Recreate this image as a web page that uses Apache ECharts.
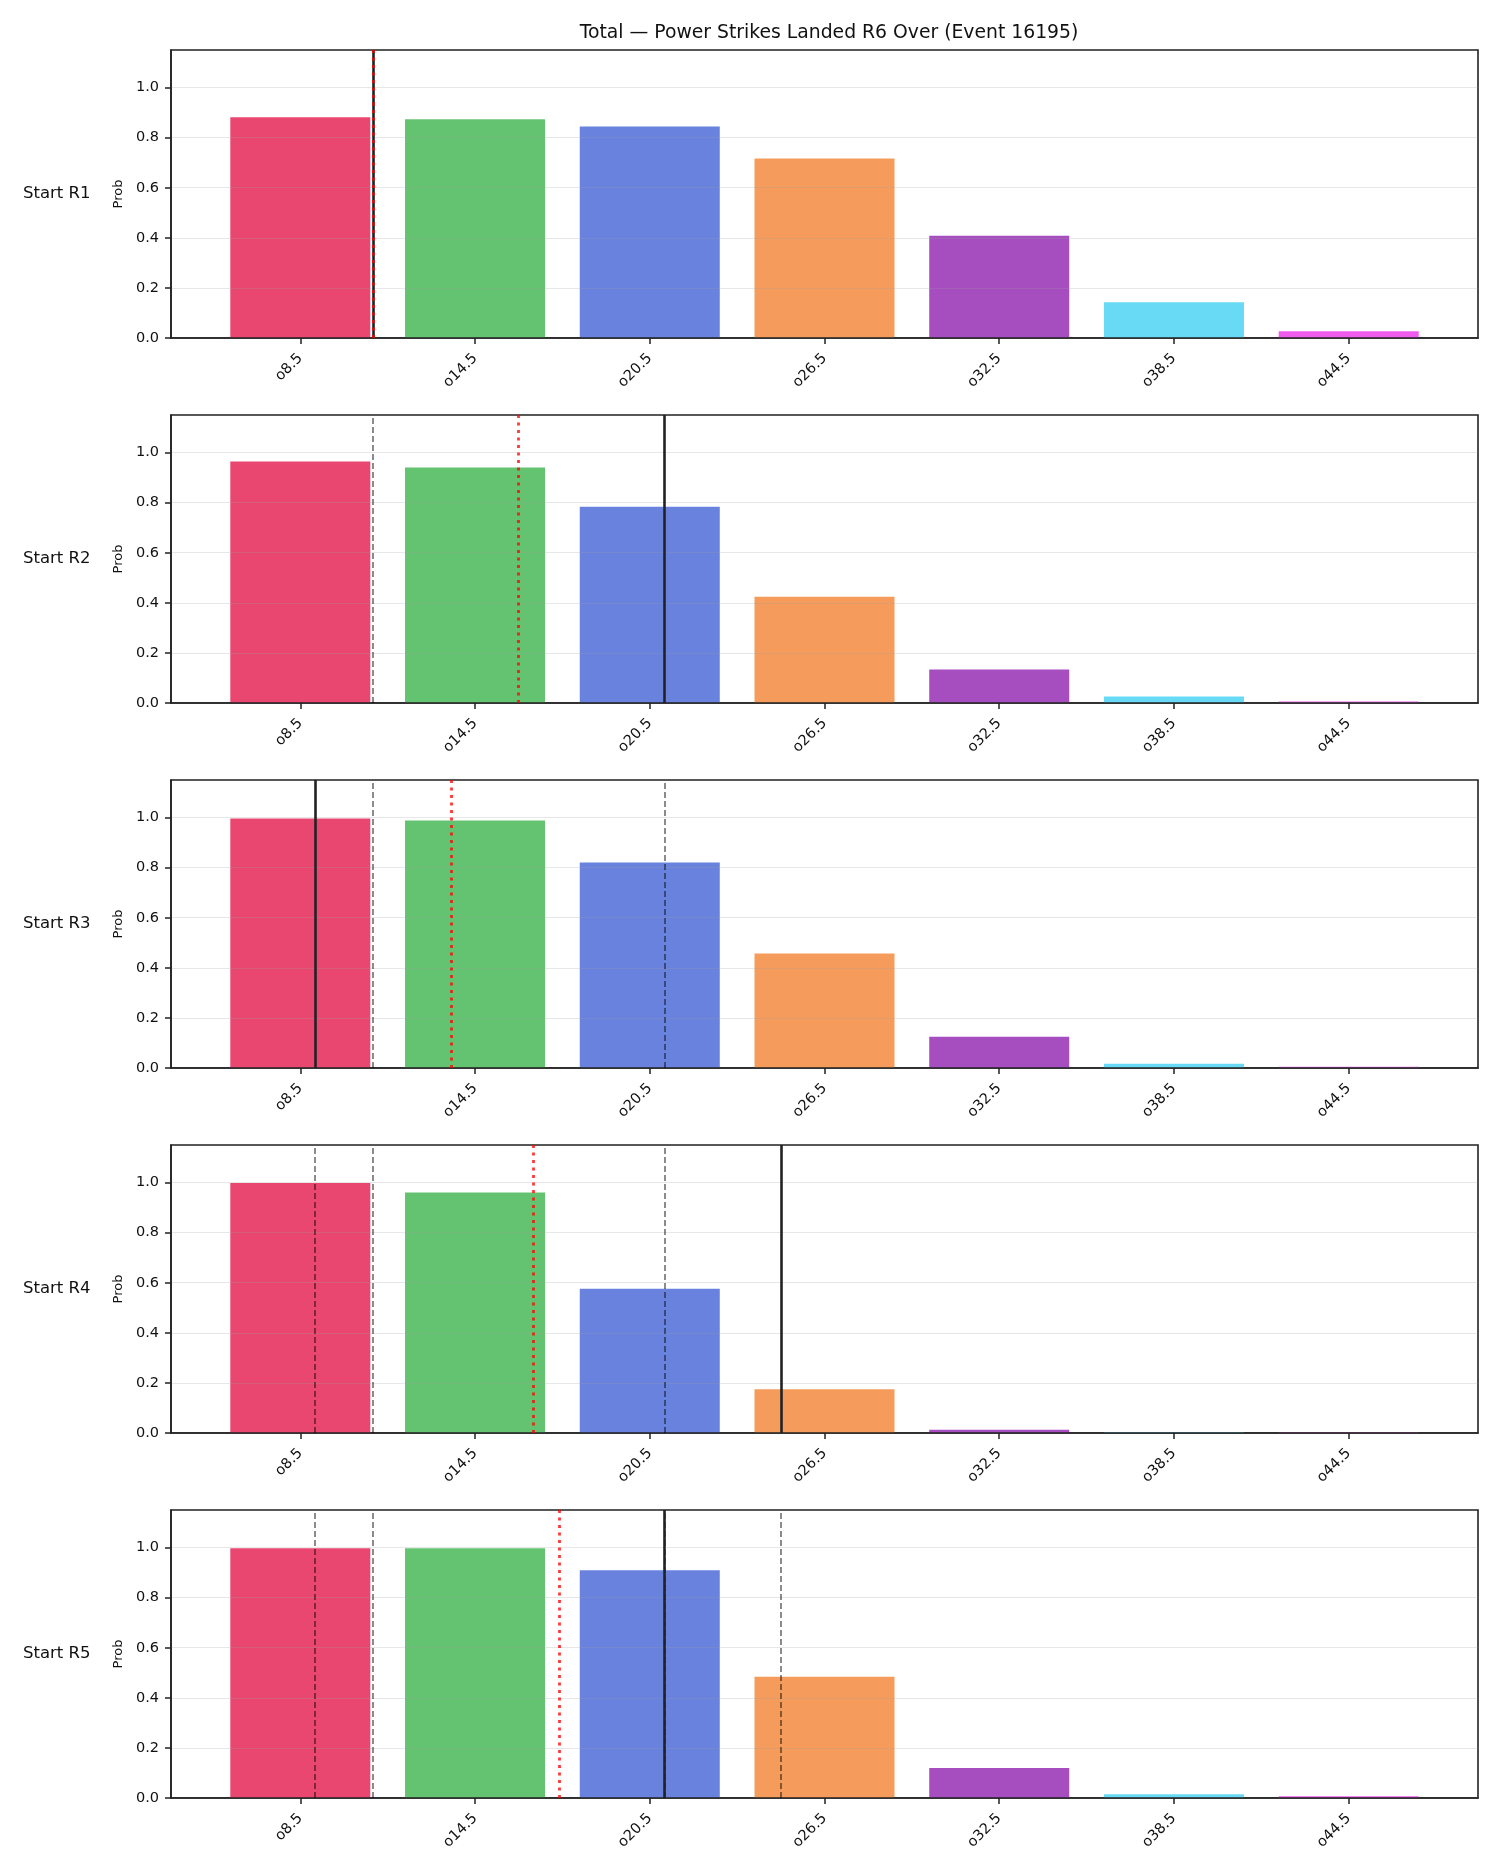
<!DOCTYPE html>
<html>
<head>
<meta charset="utf-8">
<script src="https://cdn.jsdelivr.net/npm/echarts@6/dist/echarts.min.js"></script>
<style>
  html, body { margin: 0; padding: 0; background: #fff; }
  #chart { width: 1500px; height: 1875px; }
</style>
</head>
<body>
<div id="chart"></div>
<script>
// over/under lines (strikes), one bar per line
const lines = [8.5, 14.5, 20.5, 26.5, 32.5, 38.5, 44.5]
const lineLabels = ['o8.5', 'o14.5', 'o20.5', 'o26.5', 'o32.5', 'o38.5', 'o44.5']
const barColors = ['#ea4770', '#64c370', '#6982de', '#f59c5d', '#a64dc0', '#68daf5', '#ef5cee']

const rowNames = ['Start R1', 'Start R2', 'Start R3', 'Start R4', 'Start R5']

// P(over) per line, one array per starting round
const probR1 = [0.881, 0.873, 0.845, 0.717, 0.408, 0.143, 0.027]
const probR2 = [0.964, 0.940, 0.784, 0.424, 0.134, 0.026, 0.006]
const probR3 = [0.996, 0.988, 0.821, 0.457, 0.125, 0.017, 0.005]
const probR4 = [0.998, 0.960, 0.576, 0.175, 0.013, 0.004, 0.003]
const probR5 = [0.997, 0.997, 0.909, 0.484, 0.120, 0.015, 0.007]
const probs = [probR1, probR2, probR3, probR4, probR5]

// strikes landed so far (solid), projected total (dotted), earlier rounds (dashed)
const current = [11, 21, 9, 25, 21]
const projected = [11, 16.0, 13.7, 16.5, 17.4]
const previous = [[], [11], [11, 21], [9, 11, 21], [9, 11, 21, 25]]

const yTicks = [0, 0.2, 0.4, 0.6, 0.8, 1.0]

const FONT = 'DejaVu Sans'
const AX = '#222'
const panelTop = 50
const panelStep = 365
const panelH = 288

const grids = []
const xAxes = []
const yAxes = []
const series = []
const graphics = []

probs.forEach((vals, i) => {
  const top = panelTop + i * panelStep
  grids.push({
    left: 171, right: 22, top, height: panelH,
    show: true, borderColor: AX, borderWidth: 1.6, backgroundColor: 'transparent'
  })
  xAxes.push({
    gridIndex: i,
    type: 'value',
    min: 4.06,
    max: 48.94,
    z: 3,
    axisLine: { show: true, onZero: false, lineStyle: { color: AX, width: 1.6 } },
    axisTick: { show: true, customValues: lines, length: 6, lineStyle: { color: AX, width: 1.5 } },
    axisLabel: {
      customValues: lines,
      rotate: 45,
      margin: 18,
      color: '#111',
      fontFamily: FONT,
      fontSize: 14.5,
      formatter: (v) => lineLabels[lines.indexOf(v)] || ''
    },
    splitLine: { show: false }
  })
  yAxes.push({
    gridIndex: i,
    type: 'value',
    min: 0,
    max: 1.15,
    interval: 0.2,
    z: 3,
    name: 'Prob',
    nameLocation: 'middle',
    nameGap: 46,
    nameTextStyle: { color: '#111', fontFamily: FONT, fontSize: 13 },
    axisLine: { show: true, lineStyle: { color: AX, width: 1.6 } },
    axisTick: { show: true, customValues: yTicks, length: 6, lineStyle: { color: AX, width: 1.5 } },
    axisLabel: {
      customValues: yTicks,
      margin: 12,
      color: '#111',
      fontFamily: FONT,
      fontSize: 14.5,
      formatter: (v) => v.toFixed(1)
    },
    splitLine: { show: true, lineStyle: { color: 'rgba(160,160,160,0.25)', width: 1 } }
  })

  const marks = []
  previous[i].forEach((v) => marks.push({ xAxis: v, lineStyle: { color: 'rgba(0,0,0,0.5)', width: 1.8, type: [6, 3] } }))
  marks.push({ xAxis: current[i], lineStyle: { color: '#222', width: 2.6, type: 'solid' } })
  marks.push({ xAxis: projected[i], lineStyle: { color: 'rgba(255,0,0,0.78)', width: 2.8, type: [3, 4.5] } })

  series.push({
    type: 'bar',
    xAxisIndex: i,
    yAxisIndex: i,
    barWidth: 140,
    data: vals.map((v, k) => ({
      value: [lines[k], v],
      itemStyle: { color: barColors[k] }
    })),
    markLine: {
      silent: true,
      symbol: 'none',
      label: { show: false },
      data: marks
    }
  })

  graphics.push({
    type: 'text',
    x: 23,
    y: top + panelH / 2,
    style: {
      text: rowNames[i],
      fontFamily: FONT,
      fontSize: 16.5,
      fill: '#111',
      textVerticalAlign: 'middle'
    }
  })
})

const chart = echarts.init(document.getElementById('chart'), null, { renderer: 'canvas' })
chart.setOption({
  animation: false,
  backgroundColor: '#fff',
  title: {
    text: 'Total — Power Strikes Landed R6 Over (Event 16195)',
    left: 824,
    top: 19,
    textAlign: 'center',
    textStyle: { color: '#111', fontFamily: FONT, fontSize: 18.8, fontWeight: 'normal' }
  },
  grid: grids,
  xAxis: xAxes,
  yAxis: yAxes,
  series,
  graphic: graphics
})
</script>
</body>
</html>
